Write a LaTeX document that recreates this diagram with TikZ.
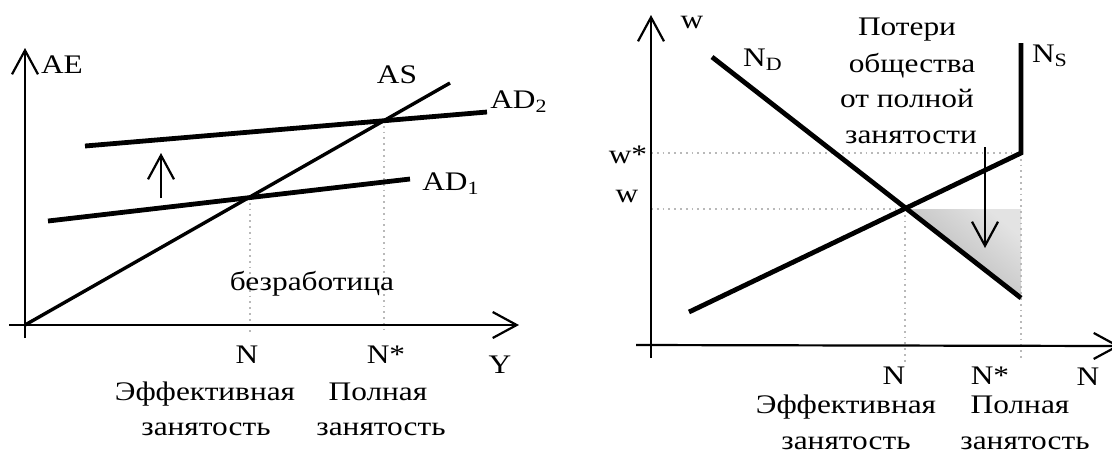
\documentclass[tikz,border=0pt]{standalone}
\usepackage{fontspec}
\usepackage{graphicx}
\setmainfont{Liberation Serif}
\usetikzlibrary{arrows.meta}
\newcommand{\widetxt}[1]{\scalebox{1.17}[1]{#1}}
\begin{document}
\begin{tikzpicture}[x=0.5pt,y=-0.5pt,
  font=\fontsize{13.4}{15}\selectfont,
  axis/.style={line width=1.1pt},
  curve/.style={line width=2.4pt},
  thincurve/.style={line width=1.7pt},
  guide/.style={gray!55, dotted, line width=0.9pt},
  barb/.style={-{Straight Barb[length=12pt,width=13pt,line width=1.1pt]}},
  lbl/.style={inner sep=0pt, anchor=base},
  loss/.style={shading=axis, top color=gray!22, bottom color=gray!62, shading angle=-40, draw=none}]
\useasboundingbox (0,0) rectangle (1112,452);

% ---------- left chart ----------
\coordinate (LYb) at (25,338);
\coordinate (LYt) at (25,48);
\coordinate (LXl) at (9,325);
\coordinate (LXr) at (519,325);
\coordinate (O1) at (25,325);
\coordinate (ASe) at (450,83);
\coordinate (AD2a) at (85,146);
\coordinate (AD2b) at (487,112);
\coordinate (AD1a) at (48,221);
\coordinate (AD1b) at (410,179);
\coordinate (E1) at (250,197);
\coordinate (E1b) at (250,333);
\coordinate (F1) at (384,120);
\coordinate (F1b) at (384,330);
\coordinate (UPa) at (161,198);
\coordinate (UPb) at (161,153);

\draw[guide] (E1) -- (E1b);
\draw[guide] (F1) -- (F1b);
\draw[axis, barb] (LYb) -- (LYt);
\draw[axis, barb] (LXl) -- (LXr);
\draw[thincurve] (O1) -- (ASe);
\draw[curve] (AD2a) -- (AD2b);
\draw[curve] (AD1a) -- (AD1b);
\draw[axis, barb] (UPa) -- (UPb);

\node[lbl] (tAE) at (62,73) {\widetxt{AE}};
\node[lbl] (tAS) at (397,83) {\widetxt{AS}};
\node[lbl] (tAD2) at (519,108) {\widetxt{AD\textsubscript{2}}};
\node[lbl] (tAD1) at (451,190) {\widetxt{AD\textsubscript{1}}};
\node[lbl] (tUn) at (312,290) {\widetxt{безработица}};
\node[lbl] (tN1) at (247,363) {\widetxt{N}};
\node[lbl] (tNs1) at (386,363) {\widetxt{N*}};
\node[lbl] (tY) at (500,373) {\widetxt{Y}};
\node[lbl] (tEf1) at (205,400) {\widetxt{Эффективная}};
\node[lbl] (tPo1) at (378,400) {\widetxt{Полная}};
\node[lbl] (tZa1) at (206,435) {\widetxt{занятость}};
\node[lbl] (tZb1) at (381,435) {\widetxt{занятость}};

% ---------- right chart ----------
\coordinate (RYb) at (651,358);
\coordinate (RYt) at (651,15);
\coordinate (RXl) at (636,345);
\coordinate (RXr) at (1120,346);
\coordinate (NDa) at (712,57);
\coordinate (NDb) at (1021,298);
\coordinate (NSa) at (689,312);
\coordinate (NSk) at (1021,153);
\coordinate (NSt) at (1021,43);
\coordinate (E2) at (905,209);
\coordinate (E2b) at (905,365);
\coordinate (Wl) at (651,209);
\coordinate (Wsl) at (651,153);
\coordinate (Tr) at (1021,209);
\coordinate (F2b) at (1021,360);
\coordinate (DNa) at (985,147);
\coordinate (DNb) at (985,248);

\shade[loss] (E2) -- (Tr) -- (NDb) -- cycle;
\draw[guide] (Wsl) -- (NSk);
\draw[guide] (Wl) -- (E2);
\draw[guide] (E2) -- (E2b);
\draw[guide] (NSk) -- (F2b);
\draw[axis, barb] (RYb) -- (RYt);
\draw[axis, barb] (RXl) -- (RXr);
\draw[curve] (NDa) -- (NDb);
\draw[curve] (NSa) -- (NSk) -- (NSt);
\draw[axis, barb] (DNa) -- (DNb);

\node[lbl] (tw) at (692,28) {\widetxt{w}};
\node[lbl] (tND) at (763,66) {\widetxt{N\textsubscript{D}}};
\node[lbl] (tNS) at (1050,62) {\widetxt{N\textsubscript{S}}};
\node[lbl] (tL1) at (907,35) {\widetxt{Потери}};
\node[lbl] (tL2) at (912,72) {\widetxt{общества}};
\node[lbl] (tL3) at (907,107) {\widetxt{от полной}};
\node[lbl] (tL4) at (911,143) {\widetxt{занятости}};
\node[lbl] (tws) at (628,163) {\widetxt{w*}};
\node[lbl] (tw2) at (627,202) {\widetxt{w}};
\node[lbl] (tN2) at (894,384) {\widetxt{N}};
\node[lbl] (tNs2) at (990,384) {\widetxt{N*}};
\node[lbl] (tN3) at (1088,385) {\widetxt{N}};
\node[lbl] (tEf2) at (846,413) {\widetxt{Эффективная}};
\node[lbl] (tPo2) at (1020,413) {\widetxt{Полная}};
\node[lbl] (tZa2) at (846,449) {\widetxt{занятость}};
\node[lbl] (tZb2) at (1025,449) {\widetxt{занятость}};
\end{tikzpicture}
\end{document}
